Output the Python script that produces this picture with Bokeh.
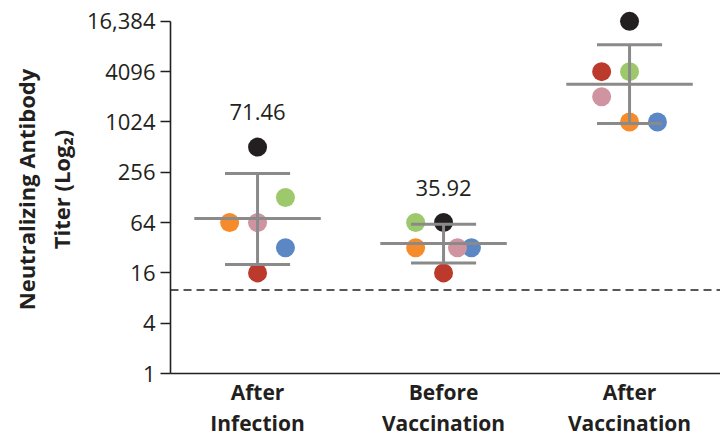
from bokeh.plotting import figure
from bokeh.models import Range1d, FixedTicker, Span, ColumnDataSource
from bokeh.embed import file_html
from bokeh.resources import INLINE
from bokeh.core.properties import value

# ---- data ----
groups = ["After\nInfection", "Before\nVaccination", "After\nVaccination"]
subjects = ["blue", "pink", "orange", "green", "red", "black"]
after_infection    = [32, 64, 64, 128, 16, 512]
before_vaccination = [32, 32, 32, 64, 16, 64]
after_vaccination  = [1024, 2048, 1024, 4096, 4096, 16384]
geo_mean   = [71.46, 35.92, 2896]
bar_upper  = [248, 61, 8600]
bar_lower  = [20.2, 21, 980]
mean_labels = ["71.46", "35.92"]
y_ticks = [1, 4, 16, 64, 256, 1024, 4096, 16384]
y_tick_labels = ["1", "4", "16", "64", "256", "1024", "4096", "16,384"]
detection_limit = 10

# ---- layout / style ----
colors = {"black": "#231f20", "green": "#9dc96c", "orange": "#f68b2c",
          "pink": "#d093a0", "blue": "#5b87c5", "red": "#bb3a2b"}
# horizontal slot of each subject within its group (layout only)
slots = [
    {"blue": 1, "pink": 0, "orange": -1, "green": 1, "red": 0, "black": 0},
    {"blue": 1, "pink": 0.5, "orange": -1, "green": -1, "red": 0, "black": 0},
    {"blue": 1, "pink": -1, "orange": 0, "green": 0, "red": -1, "black": 0},
]
slot_w = 0.15
mean_half = 0.34
cap_half = 0.175
gray = "#8a8a8a"
ink = "#231f20"

p = figure(width=720, height=442, output_backend="svg", toolbar_location=None,
           y_axis_type="log",
           x_range=Range1d(0.532, 3.489), y_range=Range1d(1, 2 ** 14.63),
           min_border_left=170, min_border_right=0, min_border_top=5,
           min_border_bottom=69)
p.outline_line_color = None
p.grid.visible = False
p.background_fill_color = "white"
p.border_fill_color = "white"

# detection limit
p.add_layout(Span(location=detection_limit, dimension="width", line_color=ink,
                  line_width=1.6, line_dash="8 5"))

series = [after_infection, before_vaccination, after_vaccination]
xs, ys, cs = [], [], []
for gi, vals in enumerate(series):
    for si, s in enumerate(subjects):
        xs.append(gi + 1 + slots[gi][s] * slot_w)
        ys.append(vals[si])
        cs.append(colors[s])
p.scatter(x=xs, y=ys, size=19, fill_color=cs, line_color=None)

gx = [i + 1 for i in range(len(groups))]
# mean lines
p.segment(x0=[x - mean_half for x in gx], x1=[x + mean_half for x in gx],
          y0=geo_mean, y1=geo_mean, line_color=gray, line_width=3)
# error bars
p.segment(x0=gx, x1=gx, y0=bar_lower, y1=bar_upper, line_color=gray, line_width=3)
p.segment(x0=[x - cap_half for x in gx], x1=[x + cap_half for x in gx],
          y0=bar_upper, y1=bar_upper, line_color=gray, line_width=3)
p.segment(x0=[x - cap_half for x in gx], x1=[x + cap_half for x in gx],
          y0=bar_lower, y1=bar_lower, line_color=gray, line_width=3)

# mean value labels above the highest point of the group
lab_src = ColumnDataSource(dict(
    x=gx[:len(mean_labels)],
    y=[max(v) for v in series[:len(mean_labels)]],
    t=mean_labels))
p.text(x="x", y="y", text="t", source=lab_src, y_offset=-35,
       text_align="center", text_baseline="middle",
       text_font=value("Open Sans"), text_font_size="22px", text_color=ink)

# axes
ya = p.yaxis[0]
ya.ticker = FixedTicker(ticks=y_ticks, minor_ticks=[])
ya.major_label_overrides = {t: l for t, l in zip(y_ticks, y_tick_labels)}
ya.bounds = (1, 16384)
ya.axis_line_color = ink
ya.axis_line_width = 1.6
ya.major_tick_line_color = ink
ya.major_tick_line_width = 1.6
ya.major_tick_out = 10
ya.major_tick_in = 0
ya.minor_tick_line_color = None
ya.major_label_standoff = 5
ya.major_label_text_font = "Open Sans"
ya.major_label_text_font_size = "22px"
ya.major_label_text_color = ink
ya.axis_label = "Neutralizing Antibody\nTiter (Log\u2082)"
ya.axis_label_text_font = "Open Sans"
ya.axis_label_text_font_style = "bold"
ya.axis_label_text_font_size = "22px"
ya.axis_label_text_color = ink
ya.axis_label_text_line_height = 1.15
ya.axis_label_standoff = 8

xa = p.xaxis[0]
xa.ticker = FixedTicker(ticks=gx, minor_ticks=[])
xa.major_label_overrides = {x: g for x, g in zip(gx, groups)}
xa.axis_line_color = ink
xa.axis_line_width = 1.6
xa.major_tick_line_color = None
xa.major_tick_out = 0
xa.major_tick_in = 0
xa.minor_tick_line_color = None
xa.major_label_standoff = 4
xa.major_label_text_font = "Open Sans"
xa.major_label_text_font_style = "bold"
xa.major_label_text_font_size = "21px"
xa.major_label_text_color = ink
xa.major_label_text_line_height = 1.12

open("out.html", "w").write(file_html(p, INLINE))
